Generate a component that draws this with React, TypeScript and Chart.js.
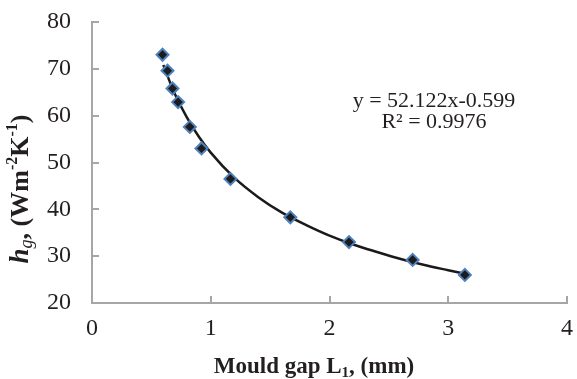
import React, { useEffect, useRef } from "react";
import { Chart, registerables } from "chart.js";

Chart.register(...registerables);

const gapMm = [0.594, 0.636, 0.678, 0.725, 0.824, 0.922, 1.166, 1.67, 2.164, 2.7, 3.14];
const hgValues = [73.0, 69.6, 65.8, 62.9, 57.6, 53.0, 46.5, 38.3, 33.0, 29.2, 26.0];

const trendX = [0.6, 0.7, 0.8, 0.9, 1.0, 1.2, 1.4, 1.6, 1.8, 2.0, 2.2, 2.4, 2.6, 2.8, 3.0, 3.15];
const trendY = [70.8, 64.5, 59.6, 55.5, 52.1, 46.7, 42.6, 39.3, 36.7, 34.4, 32.5, 30.9, 29.4, 28.1, 27.0, 26.2];

const xTicks = [0, 1, 2, 3, 4];
const yTicks = [20, 30, 40, 50, 60, 70, 80];

const equationLines = ["y = 52.122x-0.599", "R² = 0.9976"];

const TEXT = "#231f20";
const AXIS = "#a6a6a6";
const SERIF = "'Liberation Serif', 'Times New Roman', serif";

type Seg = { t: string; style?: string; size: number; dy?: number };

function drawSegs(ctx: CanvasRenderingContext2D, segs: Seg[], cx: number, baseY: number) {
  let total = 0;
  for (const s of segs) {
    ctx.font = `${s.style || "bold"} ${s.size}px ${SERIF}`;
    total += ctx.measureText(s.t).width;
  }
  let x = cx - total / 2;
  ctx.textAlign = "left";
  ctx.textBaseline = "alphabetic";
  for (const s of segs) {
    ctx.font = `${s.style || "bold"} ${s.size}px ${SERIF}`;
    ctx.fillText(s.t, x, baseY + (s.dy || 0));
    x += ctx.measureText(s.t).width;
  }
}

const decorPlugin = {
  id: "decor",
  afterDraw(chart: any) {
    const ctx: CanvasRenderingContext2D = chart.ctx;
    const xs = chart.scales.x;
    const ys = chart.scales.y;
    const area = chart.chartArea;
    ctx.save();
    // inside tick marks
    ctx.strokeStyle = AXIS;
    ctx.lineWidth = 2;
    ctx.beginPath();
    for (const v of yTicks) {
      const p = Math.round(ys.getPixelForValue(v));
      ctx.moveTo(area.left, p);
      ctx.lineTo(area.left + 7, p);
    }
    for (const v of xTicks) {
      const p = Math.round(xs.getPixelForValue(v));
      ctx.moveTo(p, area.bottom);
      ctx.lineTo(p, area.bottom - 7);
    }
    ctx.stroke();

    ctx.fillStyle = TEXT;
    // x title
    drawSegs(
      ctx,
      [
        { t: "Mould gap L", size: 23 },
        { t: "1", size: 15, dy: 4 },
        { t: ", (mm)", size: 23 },
      ],
      314,
      373
    );
    // y title
    ctx.save();
    ctx.translate(28, 189);
    ctx.rotate(-Math.PI / 2);
    drawSegs(
      ctx,
      [
        { t: "h", style: "bold italic", size: 27 },
        { t: "g", style: "italic", size: 18, dy: 4 },
        { t: ", (Wm", size: 26 },
        { t: "-2", size: 16, dy: -11 },
        { t: "K", size: 26 },
        { t: "-1", size: 16, dy: -11 },
        { t: ")", size: 26 },
      ],
      0,
      0
    );
    ctx.restore();
    // equation
    ctx.font = `22px ${SERIF}`;
    ctx.textAlign = "center";
    ctx.textBaseline = "middle";
    ctx.fillText(equationLines[0], 434, 101);
    ctx.fillText(equationLines[1], 434, 122);
    ctx.restore();
  },
};

export default function App() {
  const ref = useRef<HTMLCanvasElement>(null);
  useEffect(() => {
    if (!ref.current) return;
    const chart = new Chart(ref.current, {
      type: "scatter",
      data: {
        datasets: [
          {
            label: "trend",
            data: trendX.map((x, i) => ({ x, y: trendY[i] })),
            showLine: true,
            borderColor: "#1a1a1a",
            borderWidth: 2.5,
            pointRadius: 0,
            cubicInterpolationMode: "monotone",
            order: 2,
          },
          {
            label: "hg",
            data: gapMm.map((x, i) => ({ x, y: hgValues[i] })),
            pointStyle: "rectRot",
            pointRadius: 6,
            backgroundColor: "#1c1c1c",
            borderColor: "#4f81bd",
            borderWidth: 2,
            order: 1,
          },
        ],
      },
      options: {
        responsive: false,
        animation: false,
        layout: { padding: { top: 22, right: 10, left: 0, bottom: 0 } },
        plugins: { legend: { display: false }, tooltip: { enabled: false } },
        scales: {
          x: {
            type: "linear",
            min: 0,
            max: 4,
            afterFit: (s: any) => {
              s.height = 76;
              s.paddingLeft = 0;
              s.paddingRight = 0;
            },
            afterBuildTicks: (s: any) => {
              s.ticks = xTicks.map((v) => ({ value: v }));
            },
            grid: { display: false, drawTicks: false },
            border: { display: true, color: AXIS, width: 2 },
            ticks: { color: TEXT, padding: 11, font: { family: SERIF, size: 24 } },
          },
          y: {
            type: "linear",
            min: 20,
            max: 80,
            afterFit: (s: any) => {
              s.width = 92;
              s.paddingTop = 0;
              s.paddingBottom = 0;
            },
            afterBuildTicks: (s: any) => {
              s.ticks = yTicks.map((v) => ({ value: v }));
            },
            grid: { display: false, drawTicks: false },
            border: { display: true, color: AXIS, width: 2 },
            ticks: { color: TEXT, padding: 21, font: { family: SERIF, size: 24 } },
          },
        },
      },
      plugins: [decorPlugin],
    } as any);
    return () => chart.destroy();
  }, []);
  return (
    <div style={{ position: "fixed", left: 0, top: 0, width: 577, height: 379, background: "#fff" }}>
      <canvas ref={ref} width={577} height={379} style={{ width: 577, height: 379 }} />
    </div>
  );
}
